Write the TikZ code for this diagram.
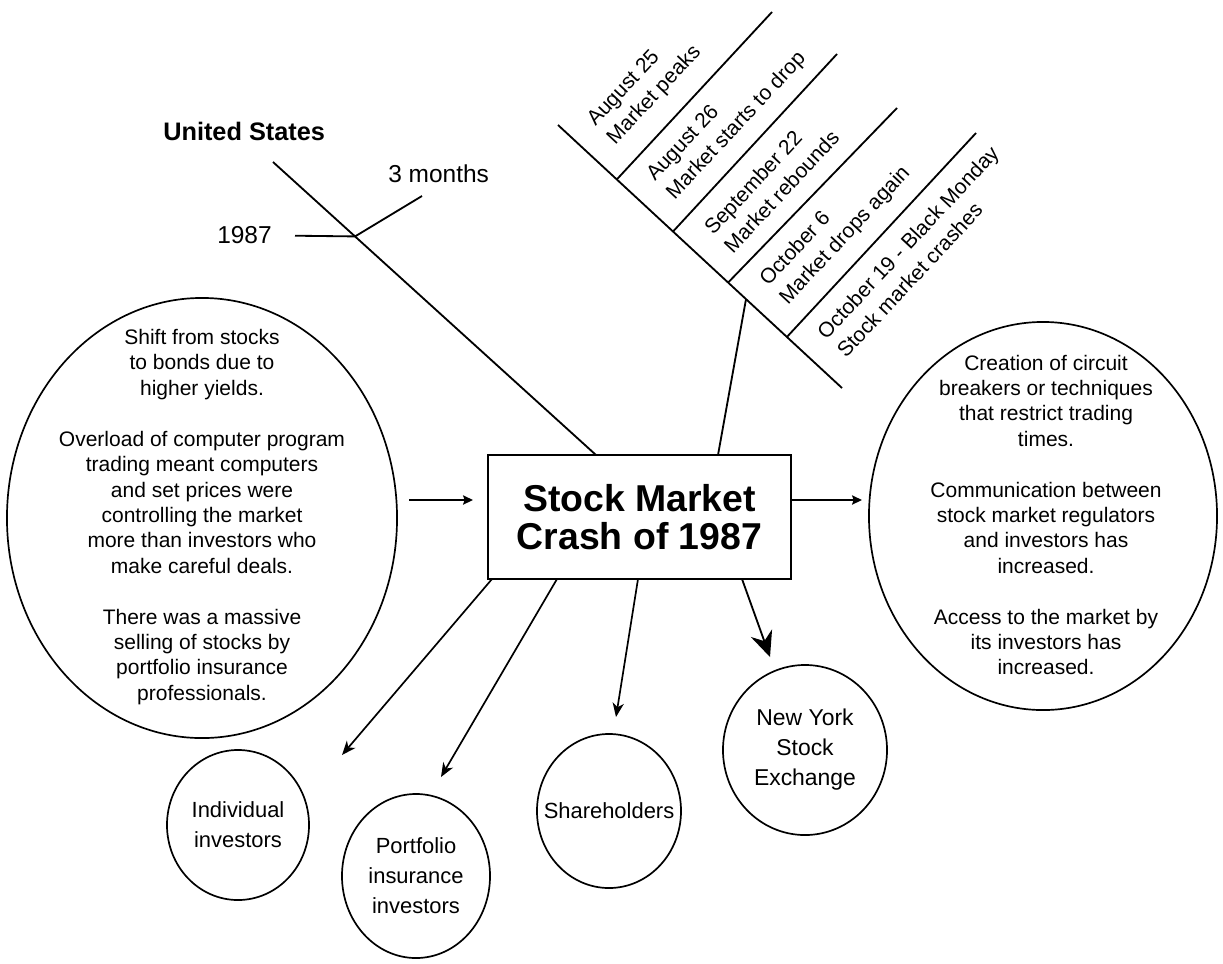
\documentclass[tikz,border=0pt]{standalone}
\usepackage{fontspec}
\setmainfont{Liberation Sans}
\usetikzlibrary{arrows.meta,shapes.geometric,calc}
\begin{document}
\begin{tikzpicture}[x=0.025cm,y=-0.025cm,
  ln/.style={line width=1.3pt},
  harr/.style={line width=1.3pt,-{Stealth[length=7pt,width=6.5pt,inset=1pt]}},
  arr/.style={line width=1.2pt,-{Stealth[length=10pt,width=8pt,inset=3pt]}},
  bigarr/.style={line width=1.3pt,-{Stealth[length=18pt,width=16pt,inset=6pt]}},
  body/.style={font=\fontsize{14.94pt}{18.07pt}\selectfont, align=center, inner sep=0pt},
  lab/.style={font=\fontsize{17.4pt}{21.34pt}\selectfont, align=center, inner sep=0pt},
  blab/.style={font=\fontsize{15.6pt}{21.34pt}\selectfont, align=center, inner sep=0pt},
  bubble/.style={draw, ellipse, line width=1.2pt, inner sep=0pt},
  event/.style={font=\fontsize{14.94pt}{19.2pt}\selectfont, align=left, inner sep=0pt, rotate=47, anchor=west},
]
\useasboundingbox (0,0) rectangle (1223,963);

% central box
\node[draw, ln, minimum width=7.575cm, minimum height=3.1cm, inner sep=0pt, align=center,
      font=\bfseries\fontsize{26.6pt}{27.5pt}\selectfont] (crash) at (639.5,517) {Stock Market\\Crash of 1987};

% left ellipse (causes)
\node[bubble, minimum width=9.75cm, minimum height=11cm] (causes) at (202,518) {};
\node[body] (causesText) at (202,517) {Shift from stocks\\to bonds due to\\higher yields.\\[18.07pt]
Overload of computer program\\trading meant computers\\and set prices were\\controlling the market\\more than investors who\\make careful deals.\\[18.07pt]
There was a massive\\selling of stocks by\\portfolio insurance\\professionals.};

% right ellipse (effects)
\node[bubble, minimum width=8.7cm, minimum height=9.7cm] (effects) at (1043,516) {};
\node[body] (effectsText) at (1046,515) {Creation of circuit\\breakers or techniques\\that restrict trading\\times.\\[18.07pt]
Communication between\\stock market regulators\\and investors has\\increased.\\[18.07pt]
Access to the market by\\its investors has\\increased.};

% bottom bubbles
\node[bubble, minimum width=3.55cm, minimum height=3.75cm] (indiv) at (238,825) {};
\node[blab] (indivText) at (indiv.center) {Individual\\investors};
\node[bubble, minimum width=3.7cm, minimum height=4.1cm] (port) at (416,876) {};
\node[blab] (portText) at (port.center) {Portfolio\\insurance\\investors};
\node[bubble, minimum width=3.6cm, minimum height=3.85cm] (share) at (609,811) {};
\node[blab] (shareText) at (share.center) {Shareholders};
\node[bubble, minimum width=4.1cm, minimum height=4.25cm] (nyse) at (805,750) {};
\node[blab, font=\fontsize{16.3pt}{21.34pt}\selectfont] (nyseText) at (nyse.center) {New York\\Stock\\Exchange};

% horizontal arrows
\coordinate (inL) at (409,500);
\coordinate (inR) at (473,500);
\coordinate (outR) at (862,500);
\draw[harr] (inL) -- (inR);
\draw[harr] (crash.east |- inL) -- (outR);

% bottom arrows
\coordinate (s1) at (492,579);
\coordinate (s2) at (557,579);
\coordinate (s3) at (638,579);
\coordinate (s4) at (742,579);
\coordinate (t1) at (342,755);
\coordinate (t2) at (441,777);
\coordinate (t3) at (616,717);
\coordinate (t4) at (770,657);
\draw[arr] (s1) -- (t1);
\draw[arr] (s2) -- (t2);
\draw[arr] (s3) -- (t3);
\draw[bigarr] (s4) -- (t4);

% United States spine
\node[lab, font=\bfseries\fontsize{18pt}{21.34pt}\selectfont, anchor=base west] (us) at (163,140) {United States};
\node[lab, anchor=base west] (months) at (388,182) {3 months};
\node[lab, anchor=base west] (yr) at (217,243) {1987};
\coordinate (usTop) at (273,162);
\coordinate (usEnd) at (596,455);
\coordinate (j) at ($(usTop)!0.254!(usEnd)$);
\coordinate (yrEnd) at (295,235.7);
\coordinate (moEnd) at (422,196);
\draw[ln] (usTop) -- (usEnd);
\draw[ln] (yrEnd) -- (j);
\draw[ln] (j) -- (moEnd);

% timeline fishbone
\coordinate (P0) at (558,125);
\coordinate (P1) at (842,388);
\draw[ln] (P0) -- (P1);
\coordinate (B1) at ($(P0)!0.207!(P1)$);
\coordinate (B2) at ($(P0)!0.405!(P1)$);
\coordinate (B3) at ($(P0)!0.599!(P1)$);
\coordinate (B4) at ($(P0)!0.806!(P1)$);
\coordinate (E1) at (772,12);
\coordinate (E2) at (837,54);
\coordinate (E3) at (897,108);
\coordinate (E4) at (976,133);
\draw[ln] (B1) -- (E1);
\draw[ln] (B2) -- (E2);
\draw[ln] (B3) -- (E3);
\draw[ln] (B4) -- (E4);
\coordinate (C) at ($(P0)!0.662!(P1)$);
\coordinate (cTop) at (718,455);
\draw[ln] (cTop) -- (C);

\node[event] (ev1) at (601.6,132.7) {August 25\\Market peaks};
\node[event] (ev2) at (661,187.7) {August 26\\Market starts to drop};
\node[event] (ev3) at (717.5,240.1) {September 22\\Market rebounds};
\node[event] (ev4) at (774,292.5) {October 6\\Market drops again};
\node[event] (ev5) at (830.6,344.8) {October 19 - Black Monday\\Stock market crashes};
\end{tikzpicture}
\end{document}
